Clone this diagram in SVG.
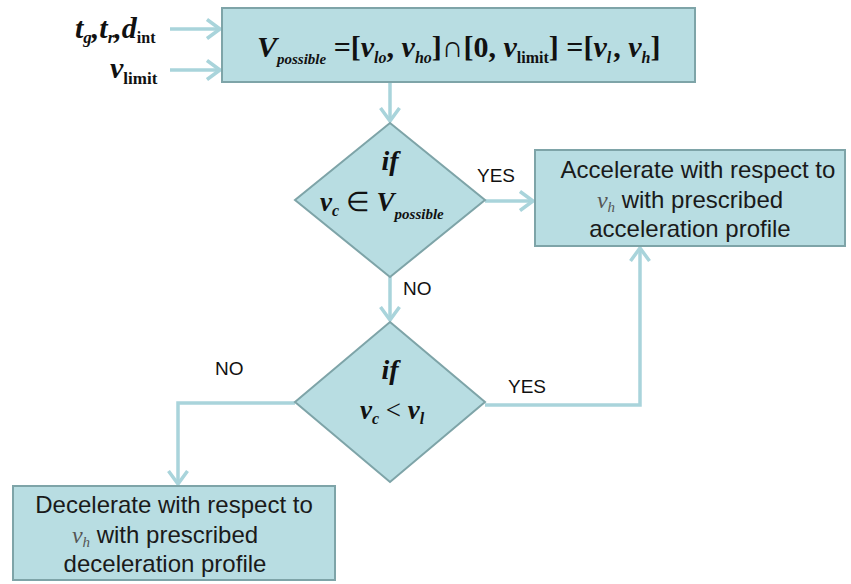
<svg xmlns="http://www.w3.org/2000/svg" width="851" height="584" viewBox="0 0 851 584">
<style>
.box{fill:#b8dde2;stroke:#7ea4a8;stroke-width:2}
.con{fill:none;stroke:#a9d4db;stroke-width:3.5}
.m{font-family:"Liberation Serif",serif;font-weight:bold;font-style:italic;fill:#111}
.up{font-style:normal}
.nb{font-weight:normal;font-style:normal}
.lbl{font-family:"Liberation Sans",Arial,sans-serif;font-size:19px;fill:#111}
.txt{font-family:"Liberation Sans",Arial,sans-serif;font-size:24px;fill:#1a1a1a;text-anchor:middle}
.vh{font-family:"Liberation Serif",serif;font-style:italic;fill:#555}
</style>
<defs>
<marker id="ah" markerWidth="16" markerHeight="22" refX="14" refY="11" orient="auto" markerUnits="userSpaceOnUse">
<polyline points="1,1.5 14,11 1,20.5" fill="none" stroke="#a9d4db" stroke-width="3.5"/>
</marker>
</defs>
<g id="connectors">
<line class="con" x1="170" y1="29" x2="220" y2="29" marker-end="url(#ah)"/>
<line class="con" x1="170" y1="70" x2="220" y2="70" marker-end="url(#ah)"/>
<line class="con" x1="390" y1="82" x2="390" y2="121" marker-end="url(#ah)"/>
<line class="con" x1="485" y1="201" x2="533" y2="201" marker-end="url(#ah)"/>
<line class="con" x1="390" y1="277" x2="390" y2="320" marker-end="url(#ah)"/>
<polyline class="con" points="485,405 640,405 640,248" marker-end="url(#ah)"/>
<polyline class="con" points="295,403 178,403 178,484" marker-end="url(#ah)"/>
<text class="lbl" x="477" y="182">YES</text>
<text class="lbl" x="403" y="295">NO</text>
<text class="lbl" x="508" y="393">YES</text>
<text class="lbl" x="215" y="375">NO</text>
</g>
<g id="inputs">
<text class="m" x="75" y="38" font-size="30">t<tspan font-size="17" dy="5">g</tspan><tspan dy="-5">,t</tspan><tspan font-size="17" dy="5">r</tspan><tspan dy="-5">,d</tspan><tspan class="up" font-size="16" dy="5">int</tspan></text>
<text class="m" x="110" y="78" font-size="30">v<tspan class="up" font-size="17" dy="6">limit</tspan></text>
</g>
<g id="n1">
<rect class="box" x="222" y="8" width="473" height="74"/>
<text class="m" x="257" y="57" font-size="30">V<tspan font-size="15" dy="7">possible</tspan><tspan class="up" dy="-7"> =[</tspan>v<tspan font-size="16" dy="6">lo</tspan><tspan class="up" dy="-6">, </tspan>v<tspan font-size="16" dy="6">ho</tspan><tspan class="up" dy="-6">]</tspan><tspan class="nb">∩</tspan><tspan class="up">[0, </tspan>v<tspan class="up" font-size="16" dy="6">limit</tspan><tspan class="up" dy="-6">] =[</tspan>v<tspan font-size="16" dy="6">l</tspan><tspan class="up" dy="-6" dx="2">, </tspan>v<tspan font-size="16" dy="6">h</tspan><tspan class="up" dy="-6">]</tspan></text>
</g>
<g id="d1">
<polygon class="box" points="390,123 485,200 390,277 295,200"/>
<text class="m" x="390" y="170" font-size="28" text-anchor="middle">if</text>
<text class="m" x="320" y="211" font-size="27">v<tspan font-size="16" dy="5">c</tspan><tspan class="nb" dy="-5"> ∈ </tspan>V<tspan font-size="15" dy="8">possible</tspan></text>
</g>
<g id="n2">
<rect class="box" x="535" y="150" width="310" height="96"/>
<text class="txt" x="698" y="178">Accelerate with respect to</text>
<text class="txt" x="690" y="208"><tspan class="vh">v</tspan><tspan class="vh" font-size="15" dy="4">h</tspan><tspan dy="-4"> with prescribed</tspan></text>
<text class="txt" x="690" y="237">acceleration profile</text>
</g>
<g id="d2">
<polygon class="box" points="390,322 485,402 390,482 295,402"/>
<text class="m" x="390" y="379" font-size="28" text-anchor="middle">if</text>
<text class="m" x="360" y="419" font-size="27">v<tspan font-size="16" dy="5">c</tspan><tspan class="nb" dy="-5"> &lt; </tspan>v<tspan font-size="16" dy="5">l</tspan></text>
</g>
<g id="n3">
<rect class="box" x="13" y="486" width="322" height="94"/>
<text class="txt" x="174" y="513">Decelerate with respect to</text>
<text class="txt" x="165" y="543"><tspan class="vh">v</tspan><tspan class="vh" font-size="15" dy="4">h</tspan><tspan dy="-4"> with prescribed</tspan></text>
<text class="txt" x="165" y="572">deceleration profile</text>
</g>
</svg>
